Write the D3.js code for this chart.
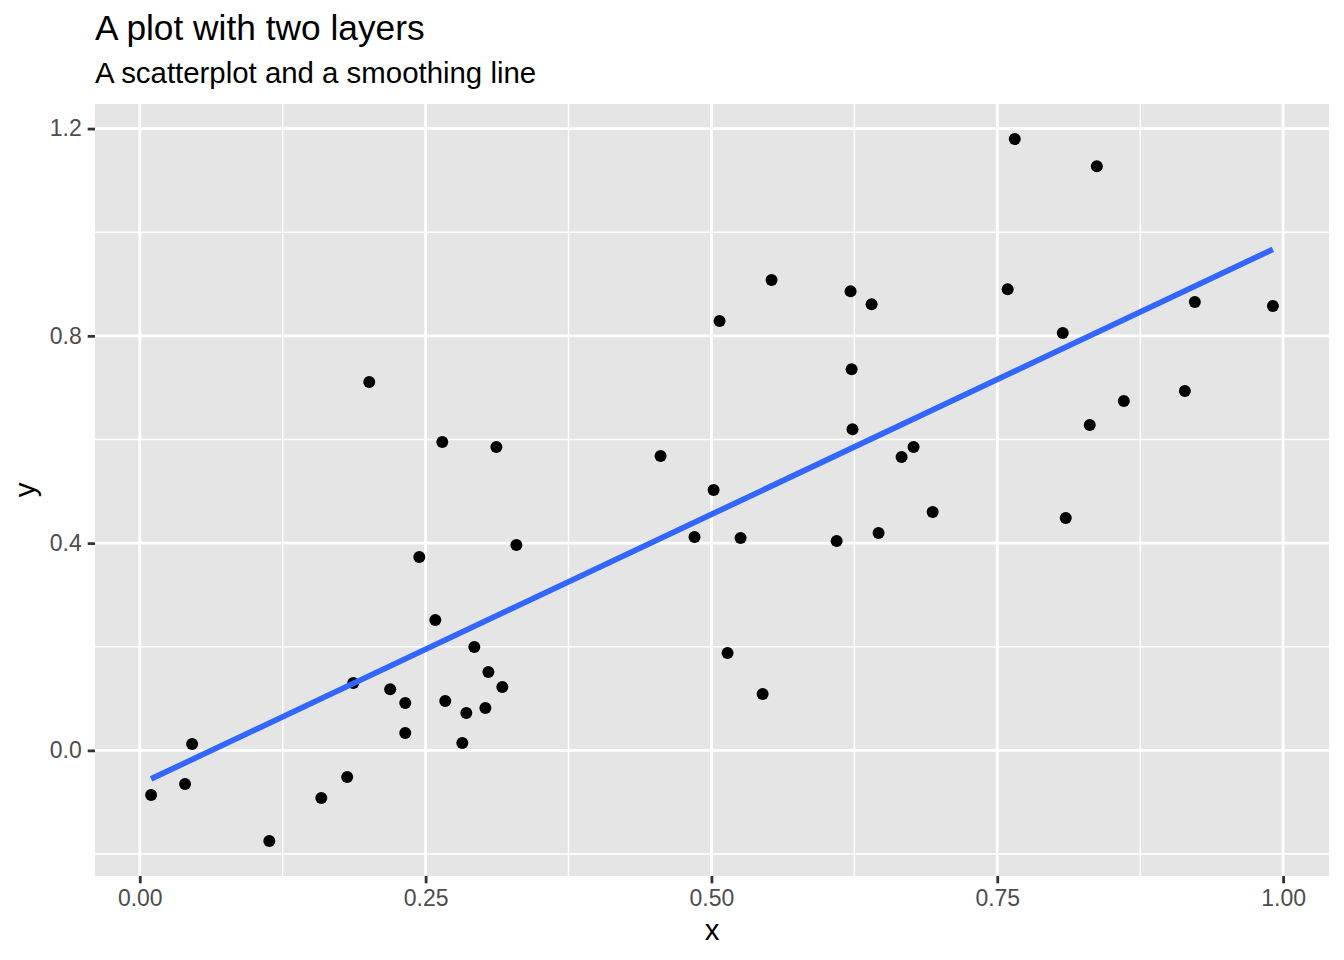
<!DOCTYPE html>
<html>
<head>
<meta charset="utf-8">
<script src="https://cdn.jsdelivr.net/npm/d3@7"></script>
<style>
  body { margin: 0; background: #fff; }
  svg { display: block; font-family: "Liberation Sans", Arial, Helvetica, sans-serif; }
</style>
</head>
<body>
<svg id="chart"></svg>
<script>
// values
const xValues = [0.0099, 0.0396, 0.0458, 0.1133, 0.1588, 0.1814, 0.1867, 0.2007, 0.2190, 0.2322,
                 0.2322, 0.2445, 0.2585, 0.2646, 0.2672, 0.2821, 0.2856, 0.2926, 0.3023, 0.3049,
                 0.3119, 0.3171, 0.3294, 0.4555, 0.4852, 0.5019, 0.5071, 0.5141, 0.5255, 0.5448,
                 0.5526, 0.6095, 0.6217, 0.6226, 0.6234, 0.6401, 0.6462, 0.6663, 0.6768, 0.6935,
                 0.7591, 0.7653, 0.8073, 0.8099, 0.8309, 0.8371, 0.8607, 0.9141, 0.9228, 0.9911];
const yValues = [-0.0863, -0.0651, 0.0122, -0.1747, -0.0921, -0.0515, 0.1299, 0.7110, 0.1180, 0.0913,
                 0.0334, 0.3732, 0.2515, 0.5952, 0.0952, 0.0141, 0.0720, 0.1994, 0.0817, 0.1512,
                 0.5855, 0.1222, 0.3963, 0.5682, 0.4118, 0.5025, 0.8288, 0.1878, 0.4099, 0.1087,
                 0.9079, 0.4041, 0.8861, 0.7355, 0.6197, 0.8610, 0.4195, 0.5662, 0.5855, 0.4601,
                 0.8900, 1.1797, 0.8056, 0.4485, 0.6280, 1.1275, 0.6743, 0.6936, 0.8654, 0.8577];

// fitted line ends
const smoothX = [0.0099, 0.9911];
const smoothY = [-0.055, 0.967];

const xTicks = [0, 0.25, 0.5, 0.75, 1];
const xMinor = [0.125, 0.375, 0.625, 0.875];
const yTicks = [0, 0.4, 0.8, 1.2];
const yMinor = [-0.2, 0.2, 0.6, 1.0];

const width = 1344;
const height = 960;
const margin = {top: 104, right: 15, bottom: 84, left: 95};

const svg = d3.select("#chart")
    .attr("width", width)
    .attr("height", height);

// ggplot style 5% expansion
function expand(ext) {
    const pad = (ext[1] - ext[0]) * 0.05;
    return [ext[0] - pad, ext[1] + pad];
}

const x = d3.scaleLinear()
    .domain(expand(d3.extent(xValues)))
    .range([margin.left, width - margin.right]);

const y = d3.scaleLinear()
    .domain(expand(d3.extent(yValues)))
    .range([height - margin.bottom, margin.top]);

// panel
svg.append("rect")
    .attr("x", margin.left)
    .attr("y", margin.top)
    .attr("width", width - margin.left - margin.right)
    .attr("height", height - margin.top - margin.bottom)
    .attr("fill", "#E5E5E5");

const grid = svg.append("g").attr("stroke", "#fff").attr("fill", "none");

grid.selectAll(".xminor").data(xMinor).enter().append("line")
    .attr("x1", d => x(d)).attr("x2", d => x(d))
    .attr("y1", margin.top).attr("y2", height - margin.bottom)
    .attr("stroke-width", 1.4);

grid.selectAll(".yminor").data(yMinor).enter().append("line")
    .attr("y1", d => y(d)).attr("y2", d => y(d))
    .attr("x1", margin.left).attr("x2", width - margin.right)
    .attr("stroke-width", 1.4);

grid.selectAll(".xmajor").data(xTicks).enter().append("line")
    .attr("x1", d => x(d)).attr("x2", d => x(d))
    .attr("y1", margin.top).attr("y2", height - margin.bottom)
    .attr("stroke-width", 2.8);

grid.selectAll(".ymajor").data(yTicks).enter().append("line")
    .attr("y1", d => y(d)).attr("y2", d => y(d))
    .attr("x1", margin.left).attr("x2", width - margin.right)
    .attr("stroke-width", 2.8);

// points
svg.append("g")
    .selectAll("circle")
    .data(xValues.map((v, i) => [v, yValues[i]]))
    .enter().append("circle")
    .attr("cx", d => x(d[0]))
    .attr("cy", d => y(d[1]))
    .attr("r", 6)
    .attr("fill", "#000");

// smoothing line
svg.append("path")
    .datum(smoothX.map((v, i) => [v, smoothY[i]]))
    .attr("fill", "none")
    .attr("stroke", "#3366FF")
    .attr("stroke-width", 5.7)
    .attr("d", d3.line().x(d => x(d[0])).y(d => y(d[1])));

// axes
function styleAxis(g) {
    g.select(".domain").remove();
    g.selectAll(".tick line").attr("stroke", "#333333").attr("stroke-width", 2.8);
    g.selectAll(".tick text")
        .attr("fill", "#4D4D4D")
        .style("font-size", "23px")
        .style("font-family", "'Liberation Sans', Arial, Helvetica, sans-serif");
}

svg.append("g")
    .attr("transform", `translate(0,${height - margin.bottom})`)
    .call(d3.axisBottom(x).tickValues(xTicks).tickFormat(d3.format(".2f")).tickSize(7.3).tickPadding(5.9))
    .call(styleAxis);

svg.append("g")
    .attr("transform", `translate(${margin.left},0)`)
    .call(d3.axisLeft(y).tickValues(yTicks).tickFormat(d3.format(".1f")).tickSize(7.3).tickPadding(5.9))
    .call(styleAxis);

// titles
svg.append("text")
    .attr("x", margin.left)
    .attr("y", 40)
    .attr("font-size", 35.3)
    .attr("fill", "#000")
    .text("A plot with two layers");

svg.append("text")
    .attr("x", margin.left)
    .attr("y", 83)
    .attr("font-size", 29.4)
    .attr("fill", "#000")
    .text("A scatterplot and a smoothing line");

svg.append("text")
    .attr("x", (margin.left + width - margin.right) / 2)
    .attr("y", 940)
    .attr("text-anchor", "middle")
    .attr("font-size", 29.4)
    .text("x");

svg.append("text")
    .attr("transform", `translate(35,${(margin.top + height - margin.bottom) / 2}) rotate(-90)`)
    .attr("text-anchor", "middle")
    .attr("font-size", 29.4)
    .text("y");
</script>
</body>
</html>
